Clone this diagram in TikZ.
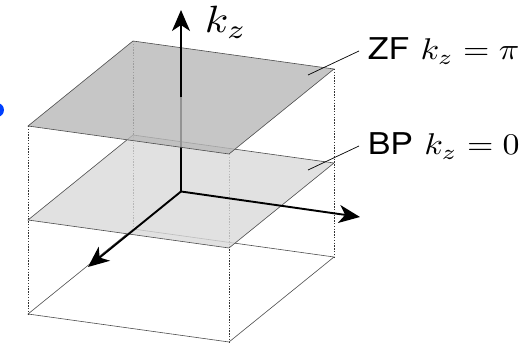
\documentclass[tikz,border=0pt]{standalone}
\usepackage{fontspec}
\newfontfamily\heros{TeX Gyre Heros}
\usetikzlibrary{arrows.meta}
\begin{document}
\begin{tikzpicture}[x=1pt,y=-1pt,
  edge/.style={black!70,line width=0.6pt},
  hidden/.style={black!80,line width=0.8pt,dash pattern=on 1.4pt off 1.4pt},
  axis/.style={line width=1.9pt,-{Stealth[length=21pt,width=18pt,inset=6pt]}},
  tag/.style={anchor=west,inner sep=2.4pt,xscale=3.39,yscale=3,font=\normalsize}]
\useasboundingbox (0,0) rectangle (531,347);
\clip (0,0) rectangle (531,347);
\fill[blue!75!cyan] (-3,110) circle (7);
% corners of the three levels
\coordinate (tl) at (28,126);
\coordinate (tb) at (133,41);
\coordinate (tr) at (334,69);
\coordinate (tf) at (229,154);
\coordinate (ml) at (28,220);
\coordinate (mb) at (133,135);
\coordinate (mr) at (334,163);
\coordinate (mf) at (229,248);
\coordinate (bl) at (28,314);
\coordinate (bb) at (133,229);
\coordinate (br) at (334,257);
\coordinate (bf) at (229,342);
% axes
\coordinate (o) at (181,191.5);
\coordinate (t) at (181,97.5);
\coordinate (kztip) at (181,10);
\coordinate (kxtip) at (88,267);
\coordinate (kytip) at (360,217);
% bottom square and dotted sides
\draw[edge] (bl) -- (bb) -- (br) -- (bf) -- cycle;
\draw[hidden] (tl) -- (bl);
\draw[hidden] (tb) -- (bb);
\draw[hidden] (tr) -- (br);
\draw[hidden] (tf) -- (bf);
% BP plane
\filldraw[edge,fill=black!15,fill opacity=0.8] (ml) -- (mb) -- (mr) -- (mf) -- cycle;
\draw[line width=1.9pt] (o) -- (t);
\draw[axis] (o) -- (kxtip);
\draw[axis] (o) -- (kytip);
% ZF plane
\filldraw[edge,fill=black!28,fill opacity=0.8] (tl) -- (tb) -- (tr) -- (tf) -- cycle;
\draw[axis] (t) -- (kztip);
\node[anchor=base west,inner sep=0pt,xscale=4.29,yscale=3.8] (kz) at (204,33) {$k_z$};
% labels
\node[tag] (zf) at (359,51) {{\heros ZF} $k_z=\pi$};
\node[tag] (bp) at (359,146) {{\heros BP} $k_z=0$};
\coordinate (zfpt) at (308,75);
\coordinate (bppt) at (308,170);
\draw[black,line width=0.7pt] (zfpt) -- (zf.west);
\draw[black,line width=0.7pt] (bppt) -- (bp.west);
\end{tikzpicture}
\end{document}
